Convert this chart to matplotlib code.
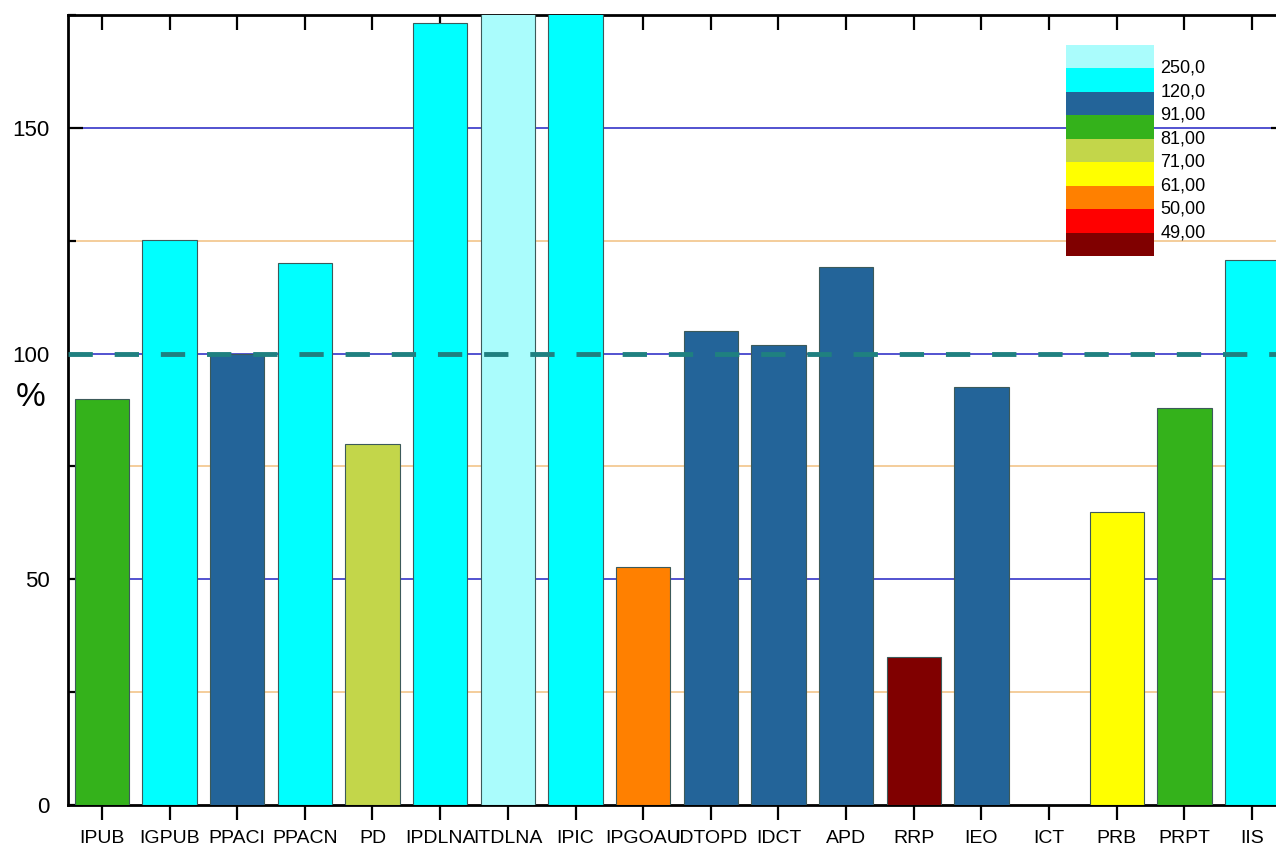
import numpy as np
import matplotlib.pyplot as plt

plt.rcParams['font.family'] = ['Liberation Sans', 'DejaVu Sans']

categories = ['IPUB', 'IGPUB', 'PPACI', 'PPACN', 'PD', 'IPDLNA', 'ITDLNA', 'IPIC',
              'IPGOAU', 'IDTOPD', 'IDCT', 'APD', 'RRP', 'IEO', 'ICT', 'PRB', 'PRPT', 'IIS']
values = [90.0, 125.1, 100.0, 120.0, 80.0, 173.2, 260.0, 190.0,
          52.8, 105.1, 101.8, 119.1, 32.8, 92.5, 0.0, 65.0, 88.0, 120.8]

# colour scale (lowest level first)
levels = [49, 50, 61, 71, 81, 91, 120, 250]
level_labels = ['49,00', '50,00', '61,00', '71,00', '81,00', '91,00', '120,0', '250,0']
level_colors = ['#800000', '#ff0000', '#ff8000', '#ffff00', '#c3d64a',
                '#34b21b', '#236499', '#00ffff', '#aafcfc']


def pick_color(v):
    i = np.searchsorted(levels, v, side='right')
    return level_colors[i]


fig = plt.figure(figsize=(12.76, 8.48), dpi=100)
ax = fig.add_axes([68/1276, 43/848, 1218/1276, 790/848])

x = np.arange(len(categories))
colors = [pick_color(v) for v in values]
ax.bar(x, values, width=0.8, color=colors, edgecolor='#3c5a5a', linewidth=0.8, zorder=3)

# reference lines
for y in [50, 100, 150]:
    ax.axhline(y, color='#3535c8', linewidth=1.2, zorder=1)
for y in [25, 75, 125]:
    ax.axhline(y, color='#f2c58a', linewidth=1.2, zorder=1)
ax.axhline(100, color='#1f8080', linewidth=3.5, dashes=(5, 4.5), zorder=4)

ax.set_xlim(-0.5, len(categories) - 0.5)
ax.set_ylim(0, 175)
ax.set_xticks(x)
ax.set_xticklabels(categories, fontsize=14)
ax.set_yticks([0, 50, 100, 150])
ax.set_yticks([25, 75, 125, 175], minor=True)
ax.tick_params(axis='y', which='major', direction='in', length=11, width=1.6,
               labelsize=16, right=True, pad=13)
ax.tick_params(axis='y', which='minor', direction='in', length=6, width=1.6, right=True)
ax.tick_params(axis='x', which='major', direction='out', length=11, width=1.6, pad=7,
               top=True)
for t in ax.xaxis.get_major_ticks():
    t.tick2line.set_marker(3)  # inward on top
    t.tick2line.set_markersize(11)
for s in ax.spines.values():
    s.set_linewidth(2)
ax.text(-0.031, 0.516, '%', fontsize=24, ha='center', va='center', transform=ax.transAxes)

# colour legend
lax = fig.add_axes([1066/1276, (848-256)/848, 88/1276, 211/848])
lax.bar(np.zeros(len(level_colors)), np.ones(len(level_colors)), width=1,
        bottom=np.arange(len(level_colors)), color=level_colors, linewidth=0)
lax.set_xlim(-0.5, 0.5)
lax.set_ylim(0, len(level_colors))
lax.axis('off')
for i, lab in enumerate(level_labels):
    lax.text(0.57, i + 1, lab, fontsize=13, va='center', ha='left',
             transform=lax.transData, clip_on=False)

fig.savefig('out.png', dpi=100)
